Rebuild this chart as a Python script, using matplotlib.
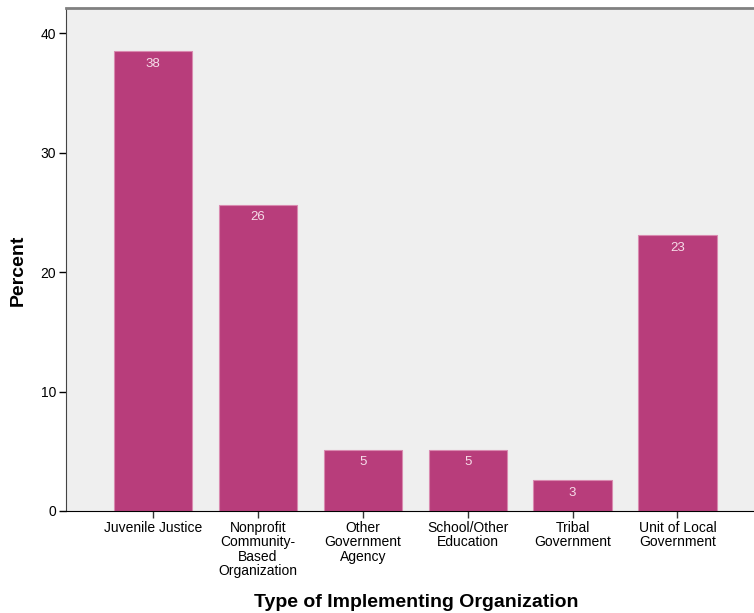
import matplotlib
matplotlib.use("Agg")
import matplotlib.pyplot as plt

categories = ["Juvenile Justice", "Nonprofit\nCommunity-\nBased\nOrganization",
              "Other\nGovernment\nAgency", "School/Other\nEducation",
              "Tribal\nGovernment", "Unit of Local\nGovernment"]
percent = [38.46, 25.64, 5.13, 5.13, 2.56, 23.08]
bar_labels = ["38", "26", "5", "5", "3", "23"]
yticks = [0, 10, 20, 30, 40]

plt.rcParams['font.family'] = ['Liberation Sans', 'DejaVu Sans']

fig = plt.figure(figsize=(7.54, 6.13), dpi=100)
ax = fig.add_axes([0.0875, 0.1664, 0.9125, 0.8206])
ax.set_facecolor("#EFEFEF")

x = list(range(len(categories)))
bars = ax.bar(x, percent, width=0.745, color="#B83D7B", edgecolor="#D98AB0", linewidth=0.8)

for b, lab in zip(bars, bar_labels):
    ax.annotate(lab, (b.get_x() + b.get_width() / 2, b.get_height()),
                xytext=(0, -9), textcoords="offset points", ha="center", va="center",
                color="#F6DDE9", fontsize=9.5)

ax.set_xlim(-0.83, 5.73)
ax.set_ylim(0, 42.1)
ax.set_xticks(x)
ax.set_xticklabels(categories, fontsize=9.5, linespacing=1.05, va="top")
ax.set_yticks(yticks)
ax.tick_params(axis="both", direction="out", length=5, width=1, labelsize=10, pad=2)
ax.tick_params(axis="x", colors="#333333", labelcolor="black")

ax.spines["right"].set_visible(False)
ax.spines["top"].set_color("#808080")
ax.spines["top"].set_linewidth(2)
ax.spines["left"].set_color("#444444")
ax.spines["bottom"].set_color("black")

ax.set_xlabel("Type of Implementing Organization", fontsize=14, fontweight="bold", va="center")
ax.xaxis.set_label_coords(0.509, -0.181)
ax.set_ylabel("Percent", fontsize=14, fontweight="bold", va="center")
ax.yaxis.set_label_coords(-0.070, 0.479)

fig.savefig("out.png", dpi=100)
